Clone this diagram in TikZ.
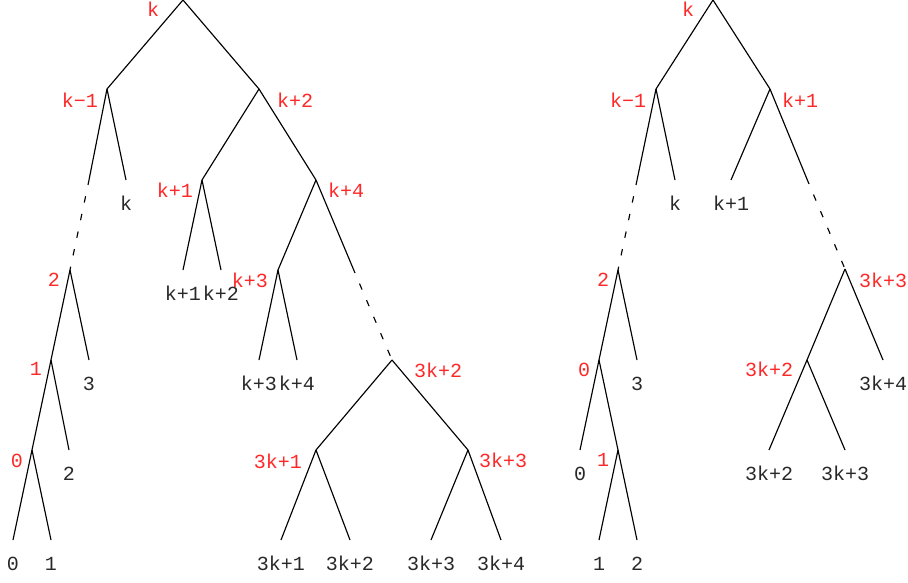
\documentclass[tikz,border=0pt]{standalone}
\usepackage{fontspec}
\setmonofont{Liberation Mono}
\usepackage{tikz}
\usetikzlibrary{positioning}
\definecolor{lblred}{RGB}{255,40,40}
\definecolor{leafgray}{RGB}{40,40,40}

\begin{document}
\begin{tikzpicture}[
    x=1pt, y=-1pt,
    edge/.style={
        line width=1.15pt
    },
    dots/.style={
        line width=1.15pt,
        dash pattern=on 6.5pt off 11.5pt,
        dash phase=6.5pt
    },
    vlabel/.style={
        text=lblred,
        inner sep=0pt,
        font=\ttfamily\fontsize{20}{20}\selectfont
    },
    leaf/.style={
        text=leafgray,
        inner sep=0pt,
        text height=12pt,
        text depth=0pt,
        font=\ttfamily\fontsize{20}{20}\selectfont
    }
]
\useasboundingbox (0,0) rectangle (908,583);

% Left tree: vertices
\coordinate (Lk) at (183,0);
\coordinate (Lkm1) at (107,89);
\coordinate (Lkp2) at (259,89);
\coordinate (Lcuta) at (88,185);
\coordinate (Ltwo) at (70,270);
\coordinate (Lone) at (51,360);
\coordinate (Lzero) at (32,450);
\coordinate (Lkp1) at (202,180);
\coordinate (Lkp4) at (316,180);
\coordinate (Lkp3) at (278,270);
\coordinate (Lcutb) at (355,273);
\coordinate (Ltkp2) at (392,360);
\coordinate (Ltkp1) at (316,450);
\coordinate (Ltkp3) at (468,450);

% Left tree: leaves
\coordinate (Lfk) at (126,180);
\coordinate (Lfkp1) at (183,270);
\coordinate (Lfkp2) at (221,270);
\coordinate (Lfkp3) at (259,360);
\coordinate (Lfkp4) at (297,360);
\coordinate (Lfthree) at (89,360);
\coordinate (Lftwo) at (69,450);
\coordinate (Lfzero) at (13,540);
\coordinate (Lfone) at (51,540);
\coordinate (Lftkp1) at (281,540);
\coordinate (Lftkp2) at (350,540);
\coordinate (Lftkp3) at (431,540);
\coordinate (Lftkp4) at (501,540);

% Left tree: edges
\draw[edge] (Lk) -- (Lkm1);
\draw[edge] (Lk) -- (Lkp2);
\draw[edge] (Lkm1) -- (Lcuta);
\draw[dots] (Lcuta) -- (Ltwo);
\draw[edge] (Lkm1) -- (Lfk);
\draw[edge] (Lkp2) -- (Lkp1);
\draw[edge] (Lkp2) -- (Lkp4);
\draw[edge] (Lkp1) -- (Lfkp1);
\draw[edge] (Lkp1) -- (Lfkp2);
\draw[edge] (Lkp4) -- (Lkp3);
\draw[edge] (Lkp4) -- (Lcutb);
\draw[dots] (Lcutb) -- (Ltkp2);
\draw[edge] (Lkp3) -- (Lfkp3);
\draw[edge] (Lkp3) -- (Lfkp4);
\draw[edge] (Ltkp2) -- (Ltkp1);
\draw[edge] (Ltkp2) -- (Ltkp3);
\draw[edge] (Ltkp1) -- (Lftkp1);
\draw[edge] (Ltkp1) -- (Lftkp2);
\draw[edge] (Ltkp3) -- (Lftkp3);
\draw[edge] (Ltkp3) -- (Lftkp4);
\draw[edge] (Ltwo) -- (Lone);
\draw[edge] (Ltwo) -- (Lfthree);
\draw[edge] (Lone) -- (Lzero);
\draw[edge] (Lone) -- (Lftwo);
\draw[edge] (Lzero) -- (Lfzero);
\draw[edge] (Lzero) -- (Lfone);

% Left tree: vertex labels
\node[vlabel] (lLk) at (153,9) {k};
\node[vlabel] (lLkm1) at (80,100) {k−1};
\node[vlabel] (lLkp2) at (295,100) {k+2};
\node[vlabel] (lLkp1) at (175,190) {k+1};
\node[vlabel] (lLkp4) at (346,190) {k+4};
\node[vlabel] (lLkp3) at (250,280) {k+3};
\node[vlabel] (lLtwo) at (54,280) {2};
\node[vlabel] (lLone) at (36,369) {1};
\node[vlabel] (lLzero) at (17,461) {0};
\node[vlabel] (lLtkp2) at (438,370) {3k+2};
\node[vlabel] (lLtkp1) at (278,461) {3k+1};
\node[vlabel] (lLtkp3) at (503,460) {3k+3};

% Left tree: leaf labels
\node[leaf, below=18pt of Lfk] (tLfk) {k};
\node[leaf, below=18pt of Lfkp1] (tLfkp1) {k+1};
\node[leaf, below=18pt of Lfkp2] (tLfkp2) {k+2};
\node[leaf, below=18pt of Lfkp3] (tLfkp3) {k+3};
\node[leaf, below=18pt of Lfkp4] (tLfkp4) {k+4};
\node[leaf, below=18pt of Lfthree] (tLfthree) {3};
\node[leaf, below=18pt of Lftwo] (tLftwo) {2};
\node[leaf, below=18pt of Lfzero] (tLfzero) {0};
\node[leaf, below=18pt of Lfone] (tLfone) {1};
\node[leaf, below=18pt of Lftkp1] (tLftkp1) {3k+1};
\node[leaf, below=18pt of Lftkp2] (tLftkp2) {3k+2};
\node[leaf, below=18pt of Lftkp3] (tLftkp3) {3k+3};
\node[leaf, below=18pt of Lftkp4] (tLftkp4) {3k+4};

% Right tree: vertices
\coordinate (Rk) at (713,0);
\coordinate (Rkm1) at (656,89);
\coordinate (Rkp1) at (770,89);
\coordinate (Rcuta) at (636,185);
\coordinate (Rtwo) at (618,270);
\coordinate (Rzero) at (599,360);
\coordinate (Rone) at (618,450);
\coordinate (Rcutb) at (809,184);
\coordinate (Rtkp3) at (845,269);
\coordinate (Rtkp2) at (807,360);

% Right tree: leaves
\coordinate (Rfk) at (675,180);
\coordinate (Rfkp1) at (731,180);
\coordinate (Rfthree) at (637,360);
\coordinate (Rfzero) at (580,450);
\coordinate (Rfone) at (599,540);
\coordinate (Rftwo) at (637,540);
\coordinate (Rftkp4) at (883,360);
\coordinate (Rftkp2) at (769,450);
\coordinate (Rftkp3) at (845,450);

% Right tree: edges
\draw[edge] (Rk) -- (Rkm1);
\draw[edge] (Rk) -- (Rkp1);
\draw[edge] (Rkm1) -- (Rcuta);
\draw[dots] (Rcuta) -- (Rtwo);
\draw[edge] (Rkm1) -- (Rfk);
\draw[edge] (Rkp1) -- (Rfkp1);
\draw[edge] (Rkp1) -- (Rcutb);
\draw[dots] (Rcutb) -- (Rtkp3);
\draw[edge] (Rtwo) -- (Rzero);
\draw[edge] (Rtwo) -- (Rfthree);
\draw[edge] (Rzero) -- (Rfzero);
\draw[edge] (Rzero) -- (Rone);
\draw[edge] (Rone) -- (Rfone);
\draw[edge] (Rone) -- (Rftwo);
\draw[edge] (Rtkp3) -- (Rtkp2);
\draw[edge] (Rtkp3) -- (Rftkp4);
\draw[edge] (Rtkp2) -- (Rftkp2);
\draw[edge] (Rtkp2) -- (Rftkp3);

% Right tree: vertex labels
\node[vlabel] (lRk) at (688,9) {k};
\node[vlabel] (lRkm1) at (628,100) {k−1};
\node[vlabel] (lRkp1) at (800,100) {k+1};
\node[vlabel] (lRtwo) at (603,280) {2};
\node[vlabel] (lRzero) at (584,370) {0};
\node[vlabel] (lRone) at (603,460) {1};
\node[vlabel] (lRtkp3) at (883,280) {3k+3};
\node[vlabel] (lRtkp2) at (769,369) {3k+2};

% Right tree: leaf labels
\node[leaf, below=18pt of Rfk] (tRfk) {k};
\node[leaf, below=18pt of Rfkp1] (tRfkp1) {k+1};
\node[leaf, below=18pt of Rfthree] (tRfthree) {3};
\node[leaf, below=18pt of Rfzero] (tRfzero) {0};
\node[leaf, below=18pt of Rfone] (tRfone) {1};
\node[leaf, below=18pt of Rftwo] (tRftwo) {2};
\node[leaf, below=18pt of Rftkp4] (tRftkp4) {3k+4};
\node[leaf, below=18pt of Rftkp2] (tRftkp2) {3k+2};
\node[leaf, below=18pt of Rftkp3] (tRftkp3) {3k+3};

\end{tikzpicture}
\end{document}
